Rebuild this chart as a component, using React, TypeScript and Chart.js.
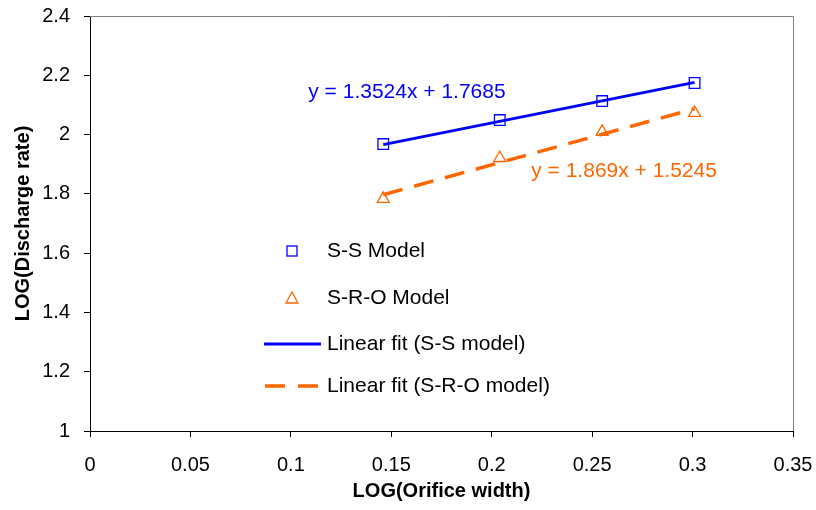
import React, { useEffect, useRef } from "react";
import { Chart, registerables } from "chart.js";

Chart.register(...registerables);

const xValues = [0.146, 0.204, 0.255, 0.301];
const ssModel = [1.968, 2.049, 2.113, 2.174];
const sroModel = [1.783, 1.921, 2.009, 2.073];
const fitX = [0.146, 0.301];
const ssFit = [1.966, 2.176];
const sroFit = [1.797, 2.087];
const xTicks = [0, 0.05, 0.1, 0.15, 0.2, 0.25, 0.3, 0.35];
const yTicks = [1, 1.2, 1.4, 1.6, 1.8, 2, 2.2, 2.4];
const ssEquation = "y = 1.3524x + 1.7685";
const sroEquation = "y = 1.869x + 1.5245";

const BLUE = "#0000FF";
const ORANGE = "#FF6600";
const FONT = "'Liberation Sans', Arial, sans-serif";

const overlay = {
  id: "overlay",
  afterDatasetsDraw(chart: any) {
    const { ctx, chartArea, scales } = chart;
    const { left, right, top, bottom } = chartArea;
    ctx.save();
    // top & right frame
    ctx.strokeStyle = "#808080";
    ctx.lineWidth = 1;
    ctx.beginPath();
    ctx.moveTo(left, top + 0.5);
    ctx.lineTo(right + 0.5, top + 0.5);
    ctx.lineTo(right + 0.5, bottom);
    ctx.stroke();

    // equations
    ctx.font = `21px ${FONT}`;
    ctx.textAlign = "center";
    ctx.textBaseline = "middle";
    ctx.fillStyle = BLUE;
    ctx.fillText(ssEquation, scales.x.getPixelForValue(0.1578), scales.y.getPixelForValue(2.144));
    ctx.fillStyle = ORANGE;
    ctx.fillText(sroEquation, scales.x.getPixelForValue(0.2659), scales.y.getPixelForValue(1.877));

    // legend
    const ds = chart.data.datasets;
    const mx = left + 202;
    const tx = left + 237;
    const rows = [top + 235, top + 282, top + 328, top + 370];
    ctx.textAlign = "left";
    ctx.fillStyle = "#000";
    ctx.font = `21px ${FONT}`;
    rows.forEach((y, i) => ctx.fillText(ds[i].label, tx, y));
    // square
    ctx.strokeStyle = BLUE;
    ctx.lineWidth = 1.3;
    ctx.strokeRect(mx - 5, rows[0] - 5, 10, 10);
    // triangle
    ctx.strokeStyle = ORANGE;
    ctx.beginPath();
    ctx.moveTo(mx, rows[1] - 6);
    ctx.lineTo(mx + 6, rows[1] + 5);
    ctx.lineTo(mx - 6, rows[1] + 5);
    ctx.closePath();
    ctx.stroke();
    // solid line
    ctx.strokeStyle = BLUE;
    ctx.lineWidth = 3;
    ctx.beginPath();
    ctx.moveTo(left + 174, rows[2]);
    ctx.lineTo(left + 231, rows[2]);
    ctx.stroke();
    // dashed line
    ctx.strokeStyle = ORANGE;
    ctx.lineWidth = 3.5;
    ctx.setLineDash([20, 13]);
    ctx.beginPath();
    ctx.moveTo(left + 175, rows[3]);
    ctx.lineTo(left + 228, rows[3]);
    ctx.stroke();
    ctx.restore();
  },
};

const zeroPad = (s: any) => {
  s.paddingTop = 0;
  s.paddingBottom = 0;
  s.paddingLeft = 0;
  s.paddingRight = 0;
};

export default function App() {
  const ref = useRef<HTMLCanvasElement>(null);
  useEffect(() => {
    if (!ref.current) return;
    const chart = new Chart(ref.current, {
      type: "scatter",
      data: {
        datasets: [
          {
            label: "S-S Model",
            data: xValues.map((x, i) => ({ x, y: ssModel[i] })),
            pointStyle: "rect",
            pointRadius: 7.5,
            pointBorderColor: BLUE,
            pointBackgroundColor: "transparent",
            pointBorderWidth: 1.3,
            showLine: false,
          },
          {
            label: "S-R-O Model",
            data: xValues.map((x, i) => ({ x, y: sroModel[i] })),
            pointStyle: "triangle",
            pointRadius: 7,
            pointBorderColor: ORANGE,
            pointBackgroundColor: "transparent",
            pointBorderWidth: 1.3,
            showLine: false,
          },
          {
            label: "Linear fit (S-S model)",
            data: fitX.map((x, i) => ({ x, y: ssFit[i] })),
            showLine: true,
            borderColor: BLUE,
            borderWidth: 3,
            pointRadius: 0,
          },
          {
            label: "Linear fit (S-R-O model)",
            data: fitX.map((x, i) => ({ x, y: sroFit[i] })),
            showLine: true,
            borderColor: ORANGE,
            borderWidth: 3.5,
            borderDash: [20, 12],
            pointRadius: 0,
          },
        ],
      },
      options: {
        animation: false,
        responsive: true,
        maintainAspectRatio: false,
        layout: { padding: { top: 16, right: 23, left: 8, bottom: 8 } },
        plugins: { legend: { display: false }, tooltip: { enabled: false } },
        scales: {
          x: {
            type: "linear",
            min: 0,
            max: 0.35,
            afterBuildTicks: (s: any) => {
              s.ticks = xTicks.map((v) => ({ value: v }));
            },
            afterFit: (s: any) => {
              s.height = 71;
              zeroPad(s);
            },
            ticks: {
              color: "#000",
              font: { family: FONT, size: 20 },
              padding: 16,
              maxRotation: 0,
              callback: (v: any) => String(parseFloat(Number(v).toFixed(3))),
            },
            grid: { display: true, drawOnChartArea: false, tickLength: 6, color: "#000" },
            border: { display: true, color: "#000", width: 1 },
            title: {
              display: true,
              text: "LOG(Orifice width)",
              color: "#000",
              font: { family: FONT, size: 20, weight: "bold", lineHeight: 1 },
              padding: { top: 0, bottom: 1 },
            },
          },
          y: {
            type: "linear",
            min: 1,
            max: 2.4,
            afterBuildTicks: (s: any) => {
              s.ticks = yTicks.map((v) => ({ value: v }));
            },
            afterFit: (s: any) => {
              s.width = 82;
              zeroPad(s);
            },
            ticks: {
              color: "#000",
              font: { family: FONT, size: 20 },
              padding: 14,
              callback: (v: any) => String(parseFloat(Number(v).toFixed(3))),
            },
            grid: { display: true, drawOnChartArea: false, tickLength: 6, color: "#000" },
            border: { display: true, color: "#000", width: 1 },
            title: {
              display: true,
              text: "LOG(Discharge rate)",
              color: "#000",
              font: { family: FONT, size: 20, weight: "bold", lineHeight: 1 },
              padding: { top: 5, bottom: 0 },
            },
          },
        },
      },
      plugins: [overlay],
    });
    return () => chart.destroy();
  }, []);
  return (
    <div style={{ position: "fixed", left: 0, top: 0, width: 816, height: 510 }}>
      <canvas ref={ref} />
    </div>
  );
}
